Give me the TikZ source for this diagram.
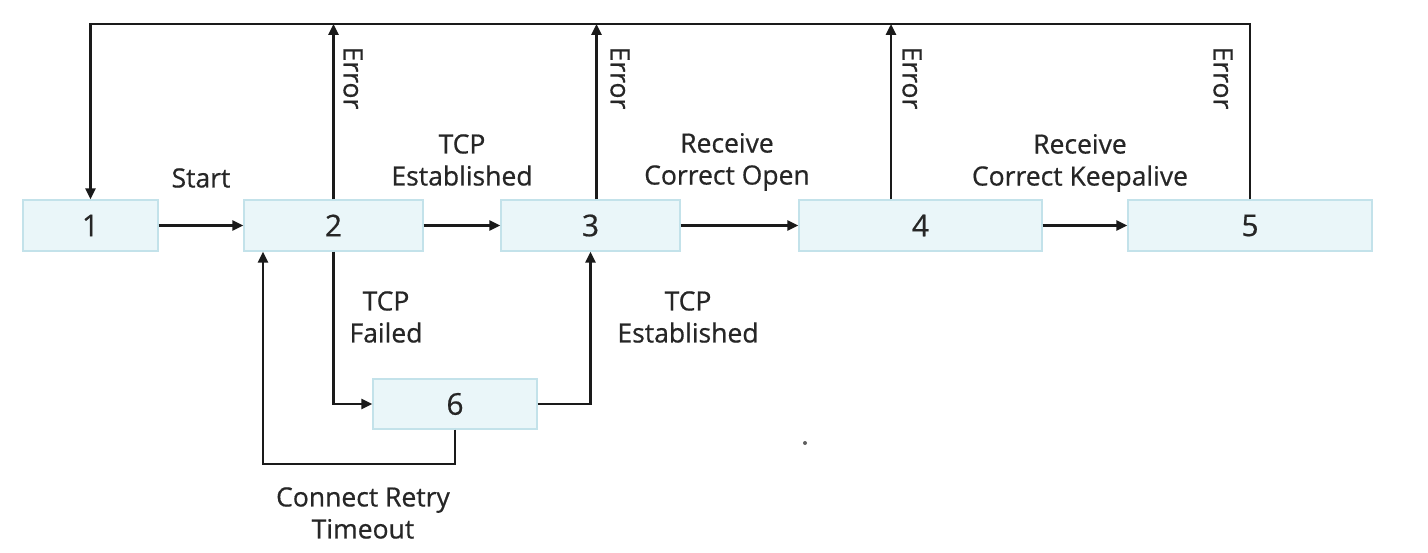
\documentclass[tikz,border=0pt]{standalone}
\usepackage{fontspec}
\setmainfont{Open Sans}[FakeBold=0.6]
\usetikzlibrary{arrows.meta,calc}
\definecolor{boxfill}{HTML}{EAF6F9}
\definecolor{boxline}{HTML}{C3E2EA}
\definecolor{ink}{HTML}{1A1A1A}
\definecolor{txt}{HTML}{262626}
\tikzset{
  state/.style={draw=boxline,line width=1.2pt,fill=boxfill,minimum height=51pt,inner sep=0pt,
    font=\fontsize{30}{32}\selectfont,text=txt},
  conn/.style={draw=ink,line width=2.6pt},
  arr/.style={conn,-{Triangle[length=11pt,width=10pt]}},
  lbl/.style={font=\fontsize{26.5}{32}\selectfont,text=txt,align=center,inner sep=0pt},
  errlbl/.style={lbl,rotate=-90}
}
\begin{document}
\begin{tikzpicture}[x=1pt,y=-1pt]
\useasboundingbox (0,0) rectangle (1428,553);
\fill[white] (0,0) rectangle (1428,553);
\node[state,minimum width=135pt] (b1) at (90.5,225.5) {1};
\node[state,minimum width=179pt] (b2) at (333.5,225.5) {2};
\node[state,minimum width=179pt] (b3) at (590.5,225.5) {3};
\node[state,minimum width=243pt] (b4) at (920.5,225.5) {4};
\node[state,minimum width=244pt] (b5) at (1250,225.5) {5};
\node[state,minimum width=164pt,minimum height=50pt] (b6) at (455,404) {6};
\coordinate (top) at (0,24);
\coordinate (retry) at (263,464);
% horizontal transitions
\draw[arr] (b1.east) -- (b2.west);
\draw[arr] (b2.east) -- (b3.west);
\draw[arr] (b3.east) -- (b4.west);
\draw[arr] (b4.east) -- (b5.west);
% error loop
\draw[arr,line join=miter] (b5.north) -- (b5.north |- top) -- (b1.north |- top) -- (b1.north);
\draw[arr] (b2.north) -- (b2.north |- top);
\draw[arr] ([xshift=6pt]b3.north) -- ([xshift=6pt]b3.north |- top);
\draw[arr] ([xshift=-29.5pt]b4.north) -- ([xshift=-29.5pt]b4.north |- top);
% lower part
\draw[arr] (b2.south) -- (b2.south |- b6.west) -- (b6.west);
\draw[arr] (b6.east) -- (b6.east -| b3.south) -- (b3.south);
\draw[arr] (b6.south) -- (b6.south |- retry) -- (retry) -- (retry |- b2.south);
% labels
\node[lbl] (lstart) at (201,178) {Start};
\node[lbl] (ltcpe) at (462,160) {TCP\\Established};
\node[lbl] (lopen) at (727,162) {Receive\\Correct Open};
\node[lbl] (lkeep) at (1080,163) {Receive\\Correct Keepalive};
\node[lbl] (lfail) at (386,317) {TCP\\Failed};
\node[lbl] (ltcpe2) at (688,317) {TCP\\Established};
\node[lbl] (lretry) at (363,513) {Connect Retry\\Timeout};
\node[errlbl] (e2) at (353,78) {Error};
\node[errlbl] (e3) at (620,78) {Error};
\node[errlbl] (e4) at (912,78) {Error};
\node[errlbl] (e5) at (1223,78) {Error};
\fill[ink!70] (805,443) circle (2pt);
\end{tikzpicture}
\end{document}
